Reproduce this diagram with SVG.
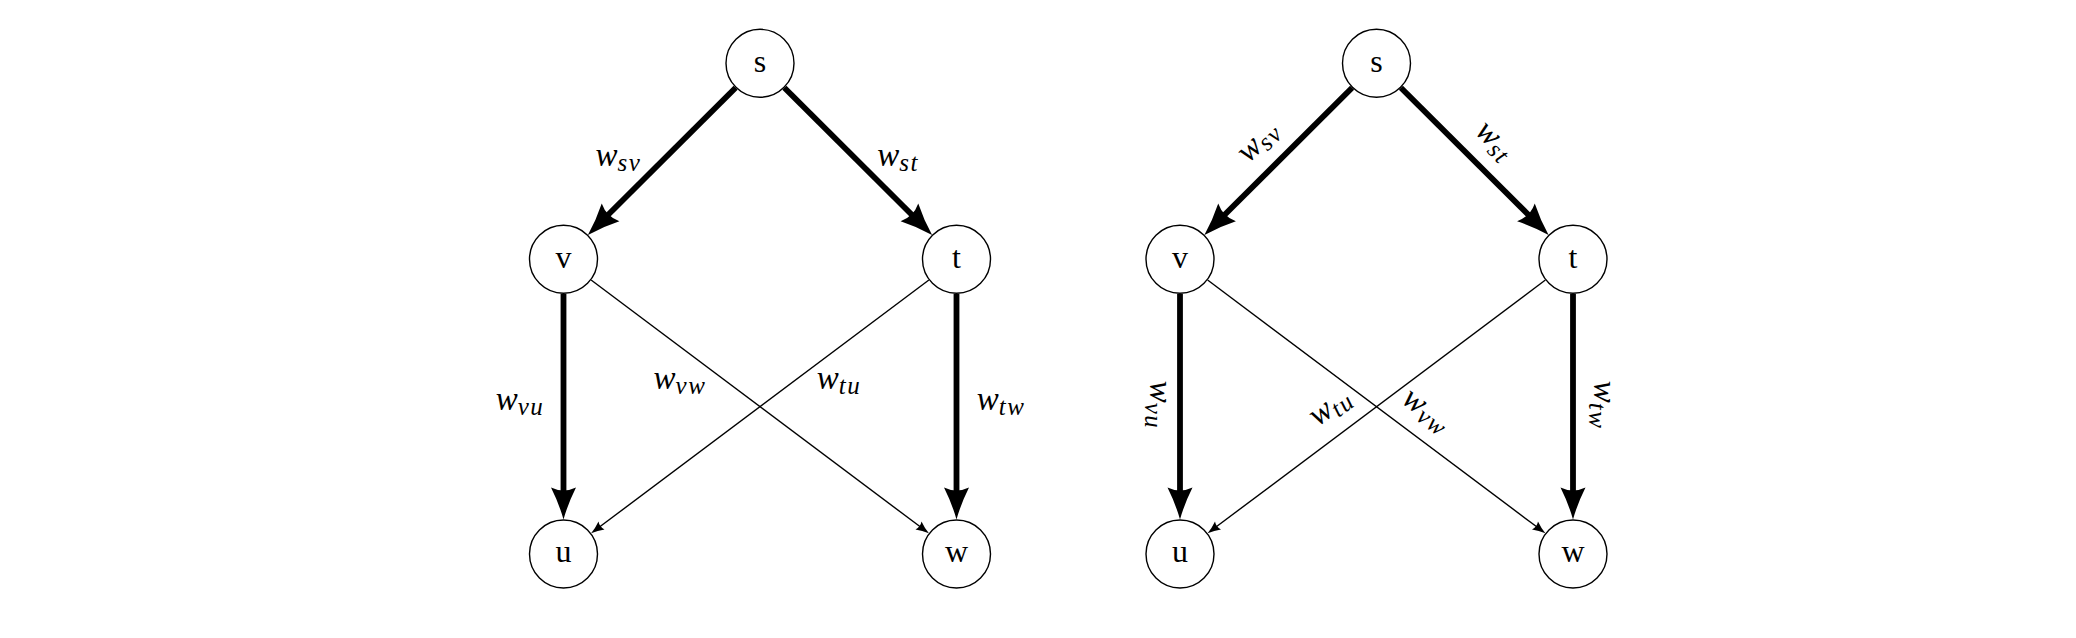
<svg xmlns="http://www.w3.org/2000/svg" width="2076" height="638" viewBox="0 0 2076 638">
<style>
.node circle{fill:#fff;stroke:#000;stroke-width:1.4}
.node text{font-family:"Liberation Serif","Times New Roman",serif;font-size:32px;text-anchor:middle;fill:#000}
.thick{stroke:#000;stroke-width:5.8;fill:none;marker-end:url(#bigArrow)}
.thin{stroke:#000;stroke-width:1.4;fill:none;marker-end:url(#smallArrow)}
.lbl{font-family:"Liberation Serif","Times New Roman",serif;font-style:italic;font-size:33px;text-anchor:middle;fill:#000}
.sub{font-size:25px;letter-spacing:1.5px}
</style>
<defs>
<marker id="bigArrow" markerUnits="userSpaceOnUse" markerWidth="40" markerHeight="30" viewBox="0 -15 40 30" refX="8" refY="0" orient="auto" overflow="visible">
<path d="M32,0 Q16,4.5 0,12.5 Q6,0 0,-12.5 Q16,-4.5 32,0 Z" fill="#000"/>
</marker>
<marker id="smallArrow" markerUnits="userSpaceOnUse" markerWidth="16" markerHeight="12" viewBox="0 -6 16 12" refX="3" refY="0" orient="auto" overflow="visible">
<path d="M13,0 Q6,1.8 0,5 Q2.5,0 0,-5 Q6,-1.8 13,0 Z" fill="#000"/>
</marker>
</defs>
<rect width="2076" height="638" fill="#fff"/>
<g id="connectors">
<!-- left graph -->
<line class="thick" x1="735.6" y1="87.7" x2="604.9" y2="218"/>
<line class="thick" x1="784.4" y1="87.7" x2="915.1" y2="218"/>
<line class="thick" x1="563.5" y1="293.8" x2="563.5" y2="495.5"/>
<line class="thick" x1="956.5" y1="293.8" x2="956.5" y2="495.5"/>
<line class="thin" x1="591.1" y1="280" x2="920.9" y2="527.3"/>
<line class="thin" x1="928.9" y1="280" x2="599.1" y2="527.3"/>
<!-- right graph -->
<line class="thick" x1="1352.1" y1="87.7" x2="1221.4" y2="218"/>
<line class="thick" x1="1400.9" y1="87.7" x2="1531.6" y2="218"/>
<line class="thick" x1="1180" y1="293.8" x2="1180" y2="495.5"/>
<line class="thick" x1="1573" y1="293.8" x2="1573" y2="495.5"/>
<line class="thin" x1="1207.6" y1="280" x2="1537.4" y2="527.3"/>
<line class="thin" x1="1545.4" y1="280" x2="1215.6" y2="527.3"/>
</g>
<g id="edge-labels">
<text class="lbl" x="618.5" y="166">w<tspan class="sub" dy="5">sv</tspan></text>
<text class="lbl" x="898" y="166">w<tspan class="sub" dy="5">st</tspan></text>
<text class="lbl" x="520" y="410">w<tspan class="sub" dy="5">vu</tspan></text>
<text class="lbl" x="680" y="389">w<tspan class="sub" dy="5">vw</tspan></text>
<text class="lbl" x="839" y="389">w<tspan class="sub" dy="5">tu</tspan></text>
<text class="lbl" x="1001" y="410">w<tspan class="sub" dy="5">tw</tspan></text>
<text class="lbl" transform="translate(1260.5,143.3) rotate(-44.8)" x="0" y="6">w<tspan class="sub" dy="5">sv</tspan></text>
<text class="lbl" transform="translate(1493,143) rotate(44.8)" x="0" y="6">w<tspan class="sub" dy="5">st</tspan></text>
<text class="lbl" transform="translate(1156,405) rotate(90)" x="0" y="6">w<tspan class="sub" dy="5">vu</tspan></text>
<text class="lbl" transform="translate(1600,405) rotate(90)" x="0" y="6">w<tspan class="sub" dy="5">tw</tspan></text>
<text class="lbl" transform="translate(1332,409) rotate(-36.8)" x="0" y="6">w<tspan class="sub" dy="5">tu</tspan></text>
<text class="lbl" transform="translate(1425,413) rotate(36.8)" x="0" y="6">w<tspan class="sub" dy="5">vw</tspan></text>
</g>
<g id="L-s" class="node"><circle cx="760" cy="63.3" r="34"/><text x="760" y="71.5">s</text></g>
<g id="L-v" class="node"><circle cx="563.5" cy="259.3" r="34"/><text x="563.5" y="267.5">v</text></g>
<g id="L-t" class="node"><circle cx="956.5" cy="259.3" r="34"/><text x="956.5" y="267.5">t</text></g>
<g id="L-u" class="node"><circle cx="563.5" cy="554" r="34"/><text x="563.5" y="562">u</text></g>
<g id="L-w" class="node"><circle cx="956.5" cy="554" r="34"/><text x="956.5" y="562">w</text></g>
<g id="R-s" class="node"><circle cx="1376.5" cy="63.3" r="34"/><text x="1376.5" y="71.5">s</text></g>
<g id="R-v" class="node"><circle cx="1180" cy="259.3" r="34"/><text x="1180" y="267.5">v</text></g>
<g id="R-t" class="node"><circle cx="1573" cy="259.3" r="34"/><text x="1573" y="267.5">t</text></g>
<g id="R-u" class="node"><circle cx="1180" cy="554" r="34"/><text x="1180" y="562">u</text></g>
<g id="R-w" class="node"><circle cx="1573" cy="554" r="34"/><text x="1573" y="562">w</text></g>
</svg>
